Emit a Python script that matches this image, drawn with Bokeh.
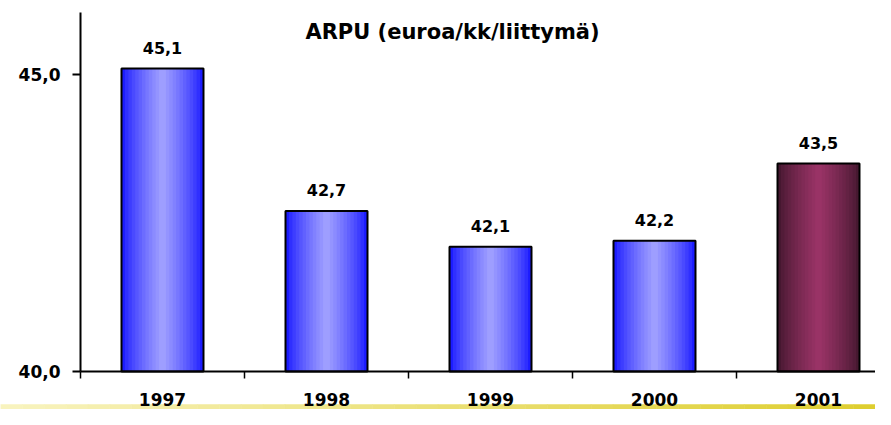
from bokeh.plotting import figure
from bokeh.models import Range1d, FixedTicker, Label
from bokeh.embed import file_html
from bokeh.resources import INLINE
from bokeh.core.properties import value

# ---- data ----
years = ["1997", "1998", "1999", "2000", "2001"]
arpu = [45.1, 42.7, 42.1, 42.2, 43.5]
value_labels = ["45,1", "42,7", "42,1", "42,2", "43,5"]
y_ticks = [40, 45]
y_tick_labels = ["40,0", "45,0"]
title_text = "ARPU (euroa/kk/liittymä)"

# ---- style ----
bar_edge = [(28, 28, 255)] * 4 + [(70, 24, 48)]
bar_mid = [(158, 158, 255)] * 4 + [(153, 51, 102)]
FONT = value("DejaVu Sans")

W, H = 875, 409
PX_X = 164.0          # pixels per category
PX_Y = 59.4           # pixels per euro
X0_PX = 80            # pixel position of y axis
BASE_PX = 371         # pixel position of x axis
X_START, X_END = -X0_PX / PX_X, (W - X0_PX) / PX_X
BASE = 40
Y_START = BASE - (H - BASE_PX) / PX_Y
Y_END = BASE + BASE_PX / PX_Y
AXIS_TOP = Y_END - 12 / PX_Y
BAR_W = 0.5

centers = [i + 0.5 for i in range(len(years))]
bounds_x = list(range(len(years) + 1))

p = figure(width=W, height=H, output_backend="svg", toolbar_location=None, tools="",
           x_range=Range1d(X_START, X_END), y_range=Range1d(Y_START, Y_END),
           min_border=0, outline_line_color=None, background_fill_color="white")
p.grid.visible = False

# x axis
xa = p.xaxis[0]
xa.fixed_location = BASE
xa.bounds = (0, X_END)
xa.ticker = FixedTicker(ticks=centers, minor_ticks=bounds_x)
xa.major_label_overrides = {c: y for c, y in zip(centers, years)}
xa.major_tick_out = 0
xa.major_tick_in = 0
xa.minor_tick_out = 7
xa.minor_tick_in = 0
xa.minor_tick_line_color = "black"
xa.minor_tick_line_width = 1.5
xa.axis_line_color = "black"
xa.axis_line_width = 2
xa.major_label_standoff = 14
xa.major_label_text_font = "DejaVu Sans"
xa.major_label_text_font_style = "bold"
xa.major_label_text_font_size = "17px"
xa.major_label_text_color = "black"

# y axis
ya = p.yaxis[0]
ya.fixed_location = 0
ya.bounds = (BASE, AXIS_TOP)
ya.ticker = FixedTicker(ticks=y_ticks)
ya.major_label_overrides = {t: l for t, l in zip(y_ticks, y_tick_labels)}
ya.major_tick_out = 8
ya.major_tick_in = 0
ya.major_tick_line_width = 2
ya.minor_tick_out = 0
ya.minor_tick_in = 0
ya.axis_line_color = "black"
ya.axis_line_width = 2
ya.major_label_standoff = 12
ya.major_label_text_font = "DejaVu Sans"
ya.major_label_text_font_style = "bold"
ya.major_label_text_font_size = "17px"
ya.major_label_text_color = "black"


def mix(a, b, t):
    return "#%02x%02x%02x" % tuple(int(round(a[i] + (b[i] - a[i]) * t)) for i in range(3))


# bars with stepped horizontal gradient
N = 12
for k in range(N):
    t = (k / (N - 1)) ** 0.8
    cols = [mix(e, m, t) for e, m in zip(bar_edge, bar_mid)]
    p.vbar(x=centers, top=arpu, bottom=BASE, width=BAR_W * (1 - k / N),
           fill_color=cols, line_color=None)
p.vbar(x=centers, top=arpu, bottom=BASE, width=BAR_W, fill_color=None,
       line_color="black", line_width=2)

# value labels
p.text(x=centers, y=arpu, text=value_labels, text_align="center",
       text_baseline="alphabetic", y_offset=-21, text_font=FONT,
       text_font_style="bold", text_font_size="16px", text_color="black")

# title
p.add_layout(Label(x=452, y=H - 31, x_units="screen", y_units="screen", text=title_text,
                   text_align="center", text_baseline="alphabetic", text_font="DejaVu Sans",
                   text_font_style="bold", text_font_size="21px", text_color="black"))

# decorative yellow rule at the bottom
n = 40
step = (X_END - X_START) / n
lefts = [X_START + i * step for i in range(n)]
rights = [X_START + (i + 1) * step for i in range(n)]
ycols = [mix((248, 243, 190), (222, 206, 48), i / (n - 1)) for i in range(n)]
p.quad(left=lefts, right=rights, bottom=Y_START, top=Y_START + 5 / PX_Y,
       fill_color=ycols, line_color=ycols, line_width=0.5)

open("out.html", "w").write(file_html(p, INLINE))
